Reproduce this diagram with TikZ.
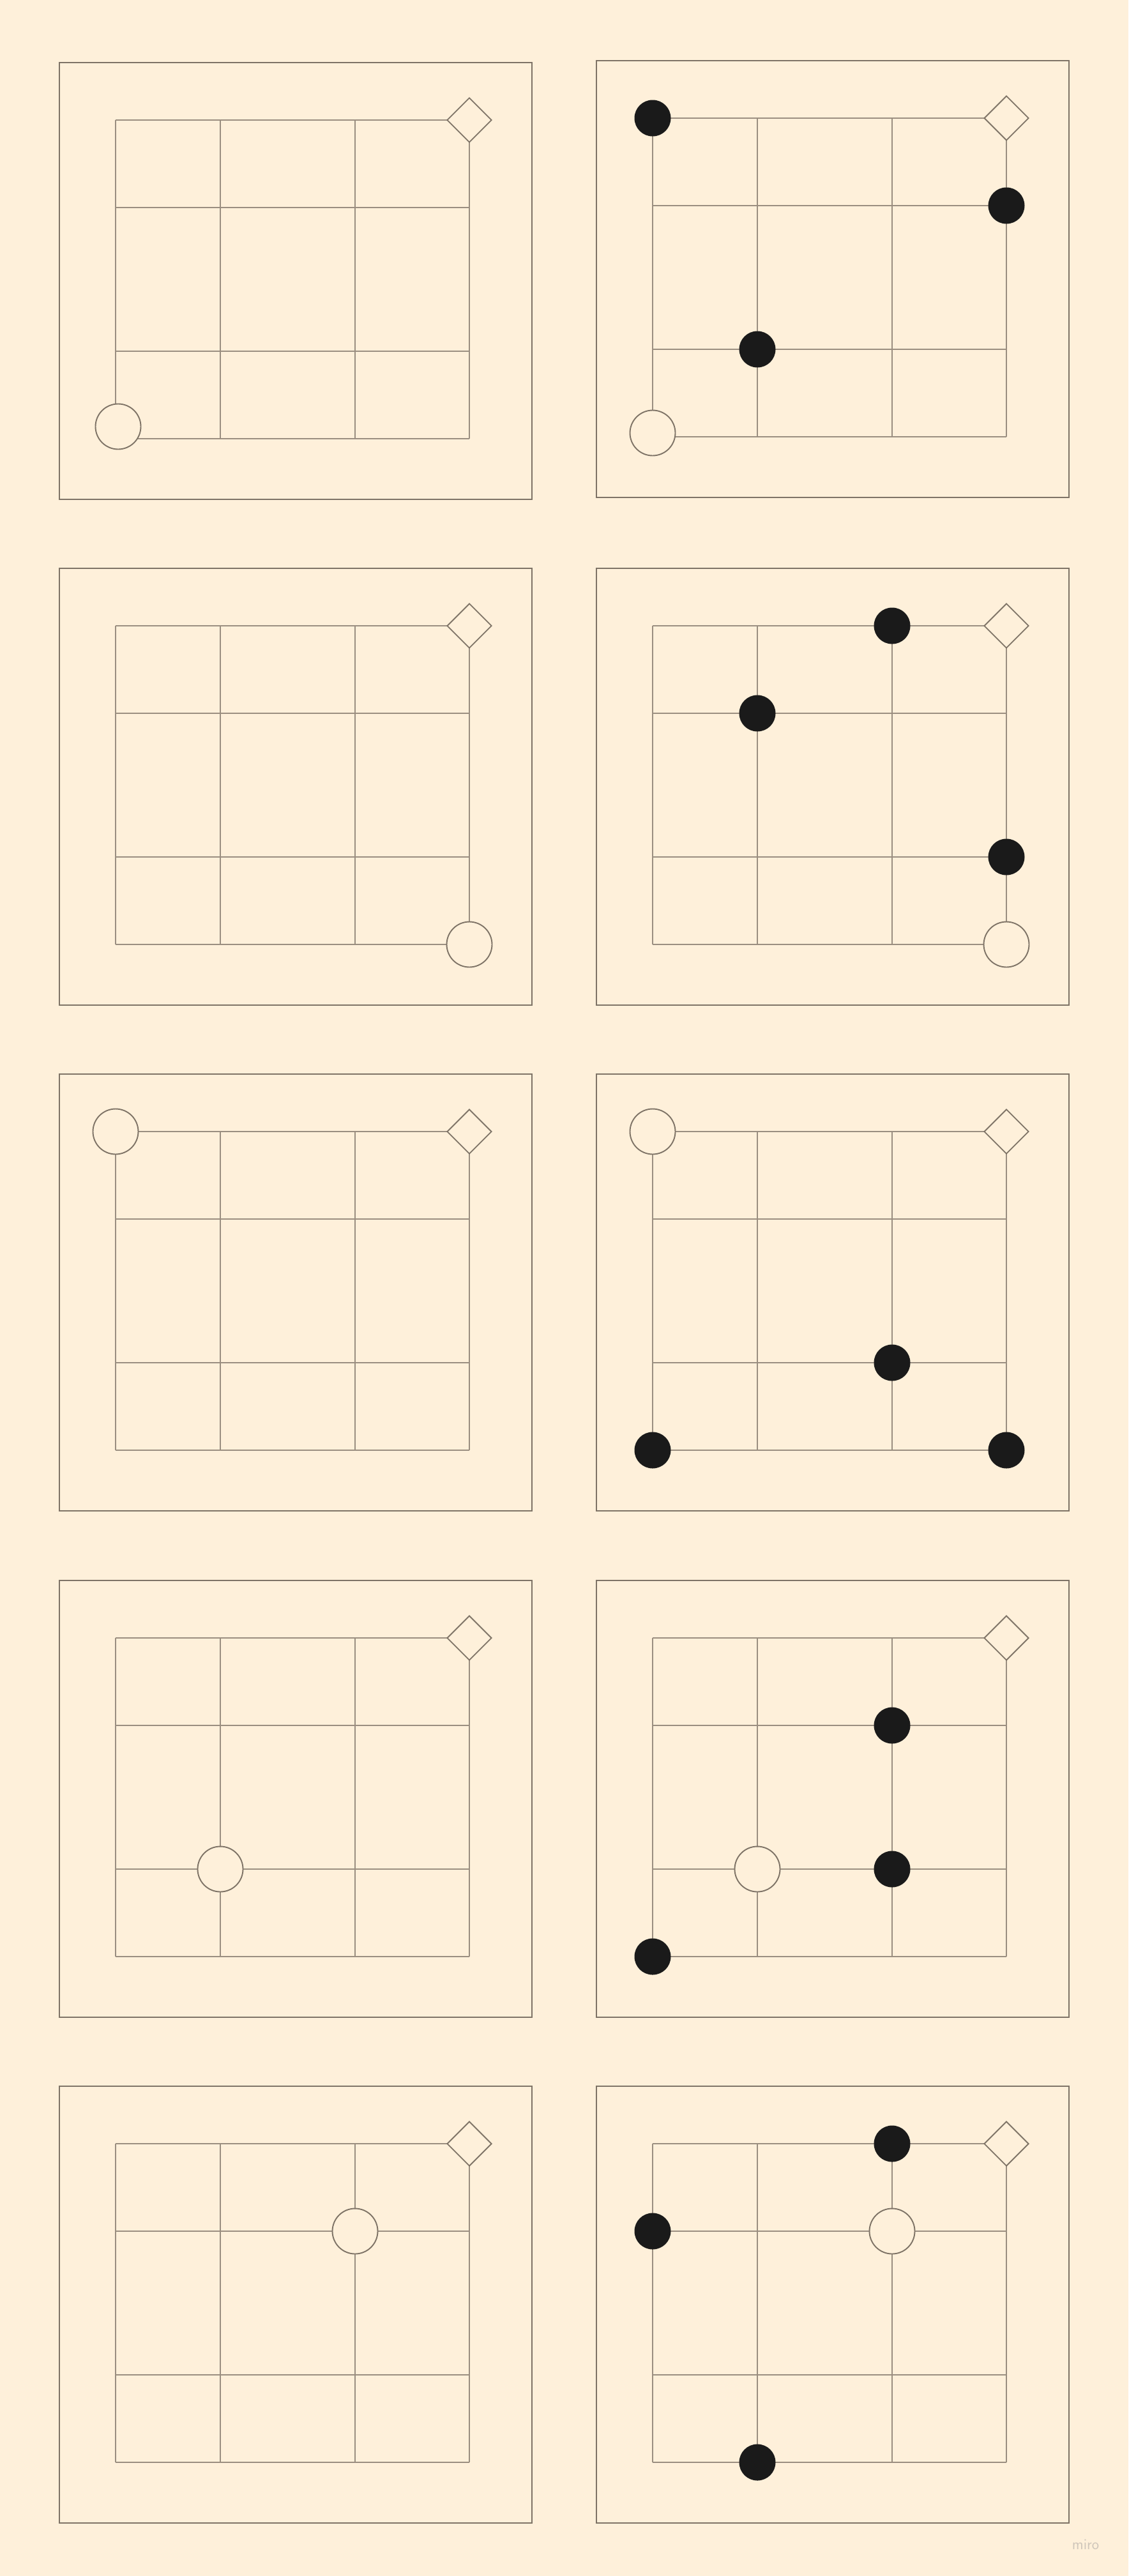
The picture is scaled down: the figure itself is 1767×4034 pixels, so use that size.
\documentclass[tikz,border=0pt]{standalone}
\usepackage{tikz}
\usetikzlibrary{shapes.geometric, positioning}

\definecolor{paper}{HTML}{FEF0DA}
\definecolor{frame}{HTML}{7E7366}
\definecolor{rule}{HTML}{9A8E80}
\definecolor{blockfill}{HTML}{1A1A1A}
\definecolor{watermark}{HTML}{CFC6BA}

% empty 4x4 board with its goal; #1 = name, #2 = top left corner
\newcommand{\emptyboard}[2]{%
  \begin{scope}[shift={#2}]
    \node[brd] (#1) at (370,342) {};
    \foreach \c/\x in {0/88,1/252,2/463,3/642}
      \foreach \r/\y in {0/90,1/227,2/452,3/589}
        \coordinate (#1-\c\r) at (\x,\y);
    \foreach \i in {0,...,3} {
      \draw[grd] (#1-\i0) -- (#1-\i3);
      \draw[grd] (#1-0\i) -- (#1-3\i);
    }
    \node[goal] (#1-goal) at (#1-30) {};
  \end{scope}}

\begin{document}
\begin{tikzpicture}[
  x=1pt, y=-1pt,
  brd/.style={draw=frame, line width=2.6pt, minimum width=740pt, minimum height=684pt, inner sep=0pt, outer sep=0pt},
  grd/.style={draw=rule, line width=2.2pt},
  goal/.style={diamond, draw=frame, fill=paper, line width=1.9pt, minimum width=70pt, minimum height=70pt, inner sep=0pt},
  hole/.style={circle, draw=frame, fill=paper, line width=1.9pt, minimum size=71pt, inner sep=0pt},
  stone/.style={circle, fill=blockfill, minimum size=57pt, inner sep=0pt},
]
\path[use as bounding box, fill=paper] (0,0) rectangle (1767,4034);

\emptyboard{b1l}{(93,98)}
\emptyboard{b1r}{(934,95)}
\emptyboard{b2l}{(93,890)}
\emptyboard{b2r}{(934,890)}
\emptyboard{b3l}{(93,1682)}
\emptyboard{b3r}{(934,1682)}
\emptyboard{b4l}{(93,2475)}
\emptyboard{b4r}{(934,2475)}
\emptyboard{b5l}{(93,3267)}
\emptyboard{b5r}{(934,3267)}

% left column: start only
\node[hole, xshift=4pt, yshift=19pt] (h1l) at (b1l-03) {};
\node[hole] (h2l) at (b2l-33) {};
\node[hole] (h3l) at (b3l-00) {};
\node[hole] (h4l) at (b4l-12) {};
\node[hole] (h5l) at (b5l-21) {};

% right column: start and blocks
\node[hole, yshift=6pt] (h1r) at (b1r-03) {};
\node[stone] (s1a) at (b1r-00) {};
\node[stone] (s1b) at (b1r-31) {};
\node[stone] (s1c) at (b1r-12) {};

\node[hole] (h2r) at (b2r-33) {};
\node[stone] (s2a) at (b2r-20) {};
\node[stone] (s2b) at (b2r-11) {};
\node[stone] (s2c) at (b2r-32) {};

\node[hole] (h3r) at (b3r-00) {};
\node[stone] (s3a) at (b3r-22) {};
\node[stone] (s3b) at (b3r-03) {};
\node[stone] (s3c) at (b3r-33) {};

\node[hole] (h4r) at (b4r-12) {};
\node[stone] (s4a) at (b4r-21) {};
\node[stone] (s4b) at (b4r-22) {};
\node[stone] (s4c) at (b4r-03) {};

\node[hole] (h5r) at (b5r-21) {};
\node[stone] (s5a) at (b5r-20) {};
\node[stone] (s5b) at (b5r-01) {};
\node[stone] (s5c) at (b5r-13) {};

\node[font=\sffamily\fontsize{24}{24}\selectfont, text=watermark] (miro) at (1700,3985) {miro};
\end{tikzpicture}
\end{document}
